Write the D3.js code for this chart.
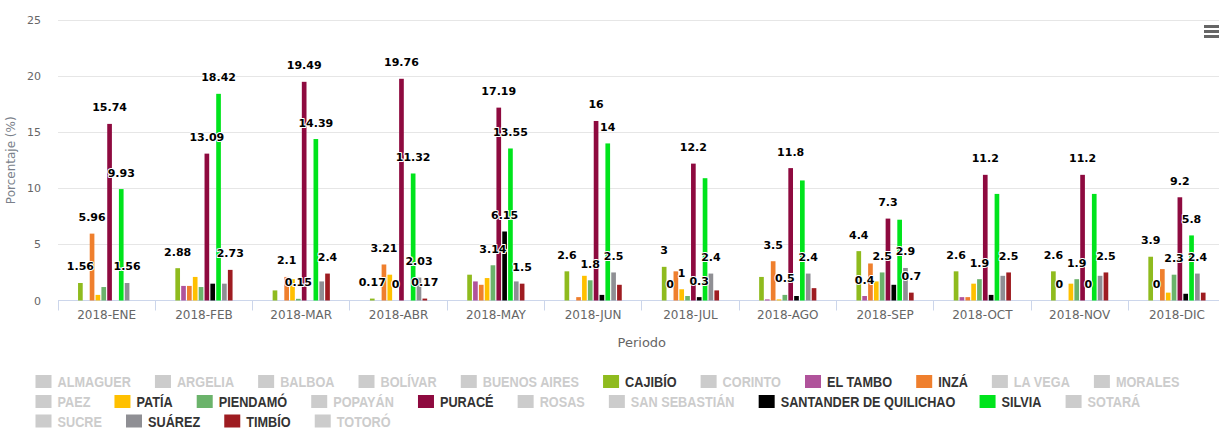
<!DOCTYPE html>
<html>
<head>
<meta charset="utf-8">
<script src="https://cdn.jsdelivr.net/npm/d3@7"></script>
<style>
  html, body { margin: 0; padding: 0; background: #ffffff; overflow: hidden; }
  svg { display: block; }
</style>
</head>
<body>
<div id="chart"></div>
<script>
const d3 = window["d3"];

const months = ["2018-ENE", "2018-FEB", "2018-MAR", "2018-ABR", "2018-MAY", "2018-JUN",
  "2018-JUL", "2018-AGO", "2018-SEP", "2018-OCT", "2018-NOV", "2018-DIC"];

const municipios = ["ALMAGUER", "ARGELIA", "BALBOA", "BOLÍVAR", "BUENOS AIRES", "CAJIBÍO",
  "CORINTO", "EL TAMBO", "INZÁ", "LA VEGA", "MORALES", "PAEZ", "PATÍA", "PIENDAMÓ",
  "POPAYÁN", "PURACÉ", "ROSAS", "SAN SEBASTIÁN", "SANTANDER DE QUILICHAO", "SILVIA",
  "SOTARÁ", "SUCRE", "SUÁREZ", "TIMBÍO", "TOTORÓ"];

// porcentaje por mes (null = sin dato)
const cajibio   = [1.56, 2.88, 0.9, 0.17, 2.3, 2.6, 3, 2.1, 4.4, 2.6, 2.6, 3.9];
const elTambo   = [null, 1.3, null, null, 1.7, null, 0, 0.1, 0.4, 0.3, 0, 0];
const inza      = [5.96, 1.3, 2.1, 3.21, 1.4, 0.3, 2.6, 3.5, 3.3, 0.3, null, 2.8];
const patia     = [0.5, 2.1, 1.9, 2.3, 2.0, 2.2, 1, 0.1, 1.7, 1.5, 1.5, 0.7];
const piendamo  = [1.2, 1.2, 0.15, 0, 3.14, 1.8, 0.4, 0.5, 2.5, 1.9, 1.9, 2.3];
const purace    = [15.74, 13.09, 19.49, 19.76, 17.19, 16, 12.2, 11.8, 7.3, 11.2, 11.2, 9.2];
const santander = [null, 1.5, null, null, 6.15, 0.5, 0.3, 0.4, 1.4, 0.5, 0, 0.6];
const silvia    = [9.93, 18.42, 14.39, 11.32, 13.55, 14, 10.9, 10.7, 7.2, 9.5, 9.5, 5.8];
const suarez    = [1.56, 1.5, 1.7, 2.03, 1.7, 2.5, 2.4, 2.4, 2.9, 2.2, 2.2, 2.4];
const timbio    = [null, 2.73, 2.4, 0.17, 1.5, 1.4, 0.9, 1.1, 0.7, 2.5, 2.5, 0.7];

const yTicks = [0, 5, 10, 15, 20, 25];

const series = [
  { name: "CAJIBÍO", values: cajibio },
  { name: "EL TAMBO", values: elTambo },
  { name: "INZÁ", values: inza },
  { name: "PATÍA", values: patia },
  { name: "PIENDAMÓ", values: piendamo },
  { name: "PURACÉ", values: purace },
  { name: "SANTANDER DE QUILICHAO", values: santander },
  { name: "SILVIA", values: silvia },
  { name: "SUÁREZ", values: suarez },
  { name: "TIMBÍO", values: timbio }
];

const colors = {
  "CAJIBÍO": "#8fbb1e",
  "EL TAMBO": "#b0539b",
  "INZÁ": "#ef7f2d",
  "PATÍA": "#ffc000",
  "PIENDAMÓ": "#6bb36b",
  "PURACÉ": "#8e0a3f",
  "SANTANDER DE QUILICHAO": "#000000",
  "SILVIA": "#00e41c",
  "SUÁREZ": "#8f8f94",
  "TIMBÍO": "#9e1c21"
};

function drawChart() {
  const width = 1219;
  const height = 429;
  const plot = { left: 58, right: 1225.6, top: 20, bottom: 300.5 };
  const crisp = v => Math.floor(v) + 0.5;

  const svg = d3.select("#chart")
    .append("svg")
    .attr("width", width)
    .attr("height", height)
    .style("font-family", "'DejaVu Sans', Verdana, sans-serif");

  const x = d3.scaleBand()
    .domain(months)
    .range([plot.left, plot.right]);

  const inner = d3.scaleBand()
    .domain(series.map(s => s.name))
    .range([x.bandwidth() * 0.2, x.bandwidth() * 0.8])
    .paddingInner(0.2)
    .paddingOuter(0.1);

  const y = d3.scaleLinear()
    .domain([0, 25])
    .range([plot.bottom, plot.top]);

  // grid
  svg.append("g")
    .selectAll("line")
    .data(yTicks.filter(t => t > 0))
    .join("line")
    .attr("x1", plot.left)
    .attr("x2", plot.right)
    .attr("y1", d => crisp(y(d)))
    .attr("y2", d => crisp(y(d)))
    .attr("stroke", "#e6e6e6");

  // y axis labels
  svg.append("g")
    .attr("transform", `translate(${plot.left}, 0)`)
    .call(d3.axisLeft(y).tickValues(yTicks).tickSize(0).tickPadding(17))
    .call(g => g.select(".domain").remove())
    .selectAll("text")
    .attr("font-family", "'DejaVu Sans', Verdana, sans-serif")
    .attr("font-size", 11)
    .attr("fill", "#666666");

  svg.append("text")
    .attr("transform", `translate(15, ${(plot.top + plot.bottom) / 2}) rotate(-90)`)
    .attr("text-anchor", "middle")
    .attr("font-size", 12)
    .attr("fill", "#7a7f8a")
    .text("Porcentaje (%)");

  // x axis
  const xAxis = svg.append("g")
    .attr("transform", `translate(0, ${plot.bottom})`)
    .call(d3.axisBottom(x).tickSize(0).tickPadding(10));
  xAxis.select(".domain").remove();
  xAxis.selectAll("text")
    .attr("font-family", "'DejaVu Sans', Verdana, sans-serif")
    .attr("font-size", 12)
    .attr("fill", "#666666");

  svg.append("line")
    .attr("x1", plot.left)
    .attr("x2", plot.right)
    .attr("y1", plot.bottom)
    .attr("y2", plot.bottom)
    .attr("stroke", "#ccd6eb");

  svg.append("g")
    .selectAll("line")
    .data(months.map(m => x(m)).concat([plot.right]))
    .join("line")
    .attr("x1", d => crisp(d))
    .attr("x2", d => crisp(d))
    .attr("y1", plot.bottom)
    .attr("y2", plot.bottom + 10)
    .attr("stroke", "#ccd6eb");

  svg.append("text")
    .attr("x", (plot.left + plot.right) / 2)
    .attr("y", 347)
    .attr("text-anchor", "middle")
    .attr("font-size", 13)
    .attr("fill", "#666666")
    .text("Periodo");

  // columns
  const points = series.flatMap(s =>
    s.values.map((v, i) => ({ name: s.name, month: months[i], value: v }))
  ).filter(d => d.value !== null);

  svg.append("g")
    .selectAll("rect")
    .data(points)
    .join("rect")
    .attr("x", d => x(d.month) + inner(d.name))
    .attr("y", d => y(d.value))
    .attr("width", inner.bandwidth())
    .attr("height", d => y(0) - y(d.value))
    .attr("fill", d => colors[d.name]);

  // data labels, overlapping ones are hidden (taller column wins)
  const labels = svg.append("g")
    .selectAll("text")
    .data(points)
    .join("text")
    .attr("x", d => x(d.month) + inner(d.name) + inner.bandwidth() / 2)
    .attr("y", d => y(d.value) - 12.5)
    .attr("text-anchor", "middle")
    .attr("font-size", 11)
    .attr("font-weight", "bold")
    .attr("fill", "#000000")
    .attr("stroke", "#ffffff")
    .attr("stroke-width", 2)
    .attr("stroke-linejoin", "round")
    .attr("paint-order", "stroke")
    .text(d => d3.format("~g")(d.value));

  const boxes = [];
  labels.each(function (d) {
    const w = this.getComputedTextLength() + 2;
    const cx = x(d.month) + inner(d.name) + inner.bandwidth() / 2;
    const cy = y(d.value) - 16.7;
    boxes.push({ node: this, rank: d.value, x0: cx - w / 2, x1: cx + w / 2, y0: cy - 10, y1: cy + 10 });
  });
  boxes.sort((a, b) => b.rank - a.rank);
  const placed = [];
  boxes.forEach(b => {
    const hit = placed.some(p => b.x0 < p.x1 && b.x1 > p.x0 && b.y0 < p.y1 && b.y1 > p.y0);
    if (hit) d3.select(b.node).remove();
    else placed.push(b);
  });

  // context menu icon
  svg.append("g")
    .selectAll("line")
    .data([26.5, 31.5, 36.5])
    .join("line")
    .attr("x1", 1204)
    .attr("x2", 1219)
    .attr("y1", d => d)
    .attr("y2", d => d)
    .attr("stroke", "#666666")
    .attr("stroke-width", 3);

  // legend
  const legend = svg.append("g");
  const probe = legend.append("text").attr("font-size", 15.5).attr("font-weight", "bold").text("SANTANDER DE QUILICHAO");
  probe.attr("font-family", "'Liberation Sans Narrow'");
  const wNarrow = probe.node().getComputedTextLength();
  probe.attr("font-family", "'Liberation Sans'");
  const wWide = probe.node().getComputedTextLength();
  probe.remove();
  const hasNarrow = wNarrow < wWide * 0.95;
  const squeeze = hasNarrow ? 1 : 0.82;

  const rowY = [381.5, 401.5, 421];
  const legendLeft = 35.5;
  const legendRight = 1200;
  let lx = legendLeft;
  let row = 0;

  municipios.forEach(name => {
    const active = colors[name] !== undefined;
    const item = legend.append("g");
    const label = item.append("text")
      .attr("font-family", hasNarrow ? "'Liberation Sans Narrow'" : "'Liberation Sans', Arial, sans-serif")
      .attr("font-size", 15.5)
      .attr("font-weight", "bold")
      .attr("fill", active ? "#333333" : "#cccccc")
      .text(name);
    const tw = label.node().getComputedTextLength() * squeeze;
    if (lx + 22 + tw > legendRight) {
      row += 1;
      lx = legendLeft;
    }
    const cy = rowY[row];
    item.insert("rect", "text")
      .attr("x", lx)
      .attr("y", cy - 6.5)
      .attr("width", 16)
      .attr("height", 13)
      .attr("fill", active ? colors[name] : "#cccccc");
    label.attr("transform", `translate(${lx + 22}, ${cy + 5.5}) scale(${squeeze}, 1)`);
    lx += 22 + tw + 24;
  });
}

drawChart();
</script>
</body>
</html>
